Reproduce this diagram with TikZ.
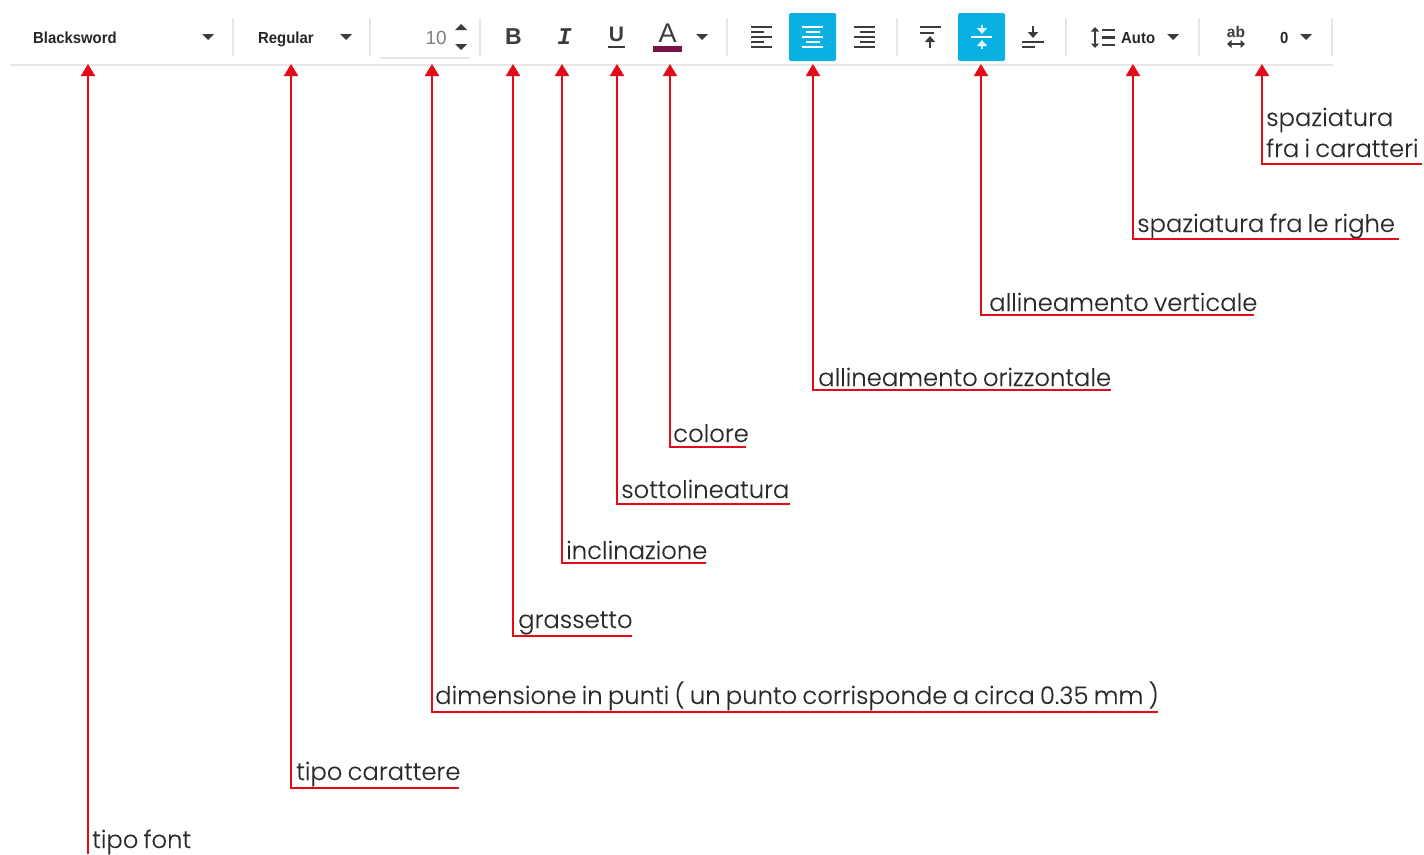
\documentclass[tikz,border=0pt]{standalone}
\usepackage{fontspec}
\usetikzlibrary{arrows.meta}
\setmainfont{Liberation Sans}
\newfontfamily\labfont{Poppins Light}[WordSpace=0.78,FakeBold=0.12]
\newfontfamily\toolfont{Liberation Sans}[FakeStretch=0.93]
\newfontfamily\slabfont{Liberation Mono}
\newcommand{\labsize}{\labfont\fontsize{24.3}{31}\selectfont}
\definecolor{redline}{HTML}{E30B17}
\definecolor{ink}{HTML}{3C3C3C}
\definecolor{tink}{HTML}{262626}
\definecolor{labink}{HTML}{2A2A2A}
\definecolor{sep}{HTML}{E6E6E6}
\definecolor{accent}{HTML}{0BB0E3}
\definecolor{plum}{HTML}{7A1245}
\tikzset{
  conn/.style={draw=redline,line width=2pt,-{Triangle[width=14pt,length=12pt]}},
  lab/.style={anchor=base west,inner sep=0pt,text=labink,font=\labsize},
  tool/.style={anchor=base west,inner sep=0pt,text=tink,font=\toolfont\fontsize{16}{16}\selectfont\bfseries},
  toolc/.style={inner sep=0pt,text=ink,font=\fontsize{23}{23}\selectfont\bfseries},
  sepline/.style={draw=sep,line width=1.4pt},
  bar/.style={draw=ink,line width=2.3pt},
  wbar/.style={draw=white,line width=2.3pt},
  btn/.style={fill=accent,rounded corners=1.5pt},
  caretmark/.style={fill=ink},
  iarrow/.style={draw=ink,line width=2.4pt,-{Triangle[width=10pt,length=6pt]}},
  warrow/.style={draw=white!85!accent,line width=2.4pt,-{Triangle[width=10pt,length=6pt]}},
  darrow/.style={draw=ink,line width=1.8pt,{Triangle[width=8pt,length=4.5pt]}-{Triangle[width=8pt,length=4.5pt]}}
}
\newcommand{\caretat}[2]{\path[caretmark] (#1-6,#2-3) -- (#1+6,#2-3) -- (#1,#2+3) -- cycle;}
\begin{document}
\begin{tikzpicture}[x=1pt,y=-1pt]
\useasboundingbox (0,0) rectangle (1424,854);
% toolbar frame
\draw[draw=sep,line width=2pt] (10,65) -- (1333,65);
\foreach \sx in {233,370,480,727,897,1066,1199,1332}
  \draw[sepline] (\sx,18) -- (\sx,56);
% toolbar text fields
\node[tool] (font) at (33,43) {Blacksword};
\caretat{208}{37}
\node[tool] (style) at (258,43) {Regular};
\caretat{346}{37}
\node[anchor=base east,inner sep=0pt,text=black!50,font=\fontsize{19}{19}\selectfont] (size) at (447,44) {10};
\path[caretmark] (455,30) -- (467,30) -- (461,24) -- cycle;
\path[caretmark] (455,44) -- (467,44) -- (461,50) -- cycle;
\draw[draw=sep,line width=1.2pt] (380,58) -- (470,58);
% character style icons
\node[toolc] (bold) at (513.5,36.5) {B};
\node[toolc,font=\slabfont\fontsize{24}{24}\selectfont\bfseries\itshape] (ital) at (564.5,36.5) {I};
\node[toolc,font=\fontsize{21}{21}\selectfont\bfseries] (under) at (616.5,34) {U};
\draw[bar] (608,47) -- (625,47);
\node[toolc,font=\fontsize{27}{27}\selectfont] (colour) at (667.5,33) {A};
\path[fill=plum] (653,46) rectangle (682,52);
\caretat{702}{37}
% horizontal alignment
\foreach \ly/\lx in {27/772,32/764,37/772,42/764,47/772} \draw[bar] (751,\ly) -- (\lx,\ly);
\path[btn] (789,13) rectangle (836,61);
\foreach \ly/\la/\lb in {27/802/823,32/806/820,37/802/823,42/806/820,47/802/823} \draw[wbar] (\la,\ly) -- (\lb,\ly);
\foreach \ly/\lx in {27/854,32/860,37/854,42/860,47/854} \draw[bar] (\lx,\ly) -- (875,\ly);
% vertical alignment
\draw[bar] (920,27) -- (941,27);
\draw[bar] (920,33) -- (934,33);
\draw[iarrow] (930,48) -- (930,36);
\path[btn] (958,13) rectangle (1005,61);
\draw[wbar] (971,37) -- (992,37);
\draw[warrow] (982,25) -- (982,34);
\draw[warrow] (982,49) -- (982,40);
\draw[iarrow] (1033,26) -- (1033,38);
\draw[bar] (1022,42) -- (1044,42);
\draw[bar] (1022,47) -- (1035,47);
% line spacing
\draw[darrow] (1095,27) -- (1095,48);
\foreach \ly in {30,37.5,45} \draw[line width=2.4pt,draw=ink] (1102,\ly) -- (1115,\ly);
\node[tool] (auto) at (1121,43) {Auto};
\caretat{1173}{37}
% character spacing
\node[inner sep=0pt,text=ink,font=\fontsize{15.5}{15.5}\selectfont\bfseries] (ab) at (1236,32) {ab};
\draw[darrow] (1227,44) -- (1245,44);
\node[tool] (zero) at (1280,43) {0};
\caretat{1306}{37}
% arrow targets
\foreach \tn/\tx in {f/88,c/291,d/432,g/513,n/562,s/617,o/670,h/813,v/981,r/1133,k/1262}
  \coordinate (tip\tn) at (\tx,64);
% labels
\node[lab] (lf) at (92,848) {tipo font};
\coordinate (endf) at (88,854);
\draw[conn] (endf) -- (tipf);
\node[lab] (lc) at (296,780) {tipo carattere};
\coordinate (endc) at (459,788);
\draw[conn] (endc) -| (tipc);
\node[lab] (ld) at (435,704) {dimensione in punti ( un punto corrisponde a circa 0.35 mm )};
\coordinate (endd) at (1158,712);
\draw[conn] (endd) -| (tipd);
\node[lab] (lg) at (518,628) {grassetto};
\coordinate (endg) at (632,636);
\draw[conn] (endg) -| (tipg);
\node[lab] (ln) at (566,559) {inclinazione};
\coordinate (endn) at (706,563);
\draw[conn] (endn) -| (tipn);
\node[lab] (ls) at (621,498) {sottolineatura};
\coordinate (ends) at (790,504);
\draw[conn] (ends) -| (tips);
\node[lab] (lo) at (673,442) {colore};
\coordinate (endo) at (746,447);
\draw[conn] (endo) -| (tipo);
\node[lab] (lh) at (818,386) {allineamento orizzontale};
\coordinate (endh) at (1111,390);
\draw[conn] (endh) -| (tiph);
\node[lab] (lv) at (989,311) {allineamento verticale};
\coordinate (endv) at (1254,315);
\draw[conn] (endv) -| (tipv);
\node[lab] (lr) at (1137,232) {spaziatura fra le righe};
\coordinate (endr) at (1399,239);
\draw[conn] (endr) -| (tipr);
\node[lab] (lk1) at (1266,126) {spaziatura};
\node[lab] (lk2) at (1266,157) {fra i caratteri};
\coordinate (endk) at (1422,164);
\draw[conn] (endk) -| (tipk);
\end{tikzpicture}
\end{document}
